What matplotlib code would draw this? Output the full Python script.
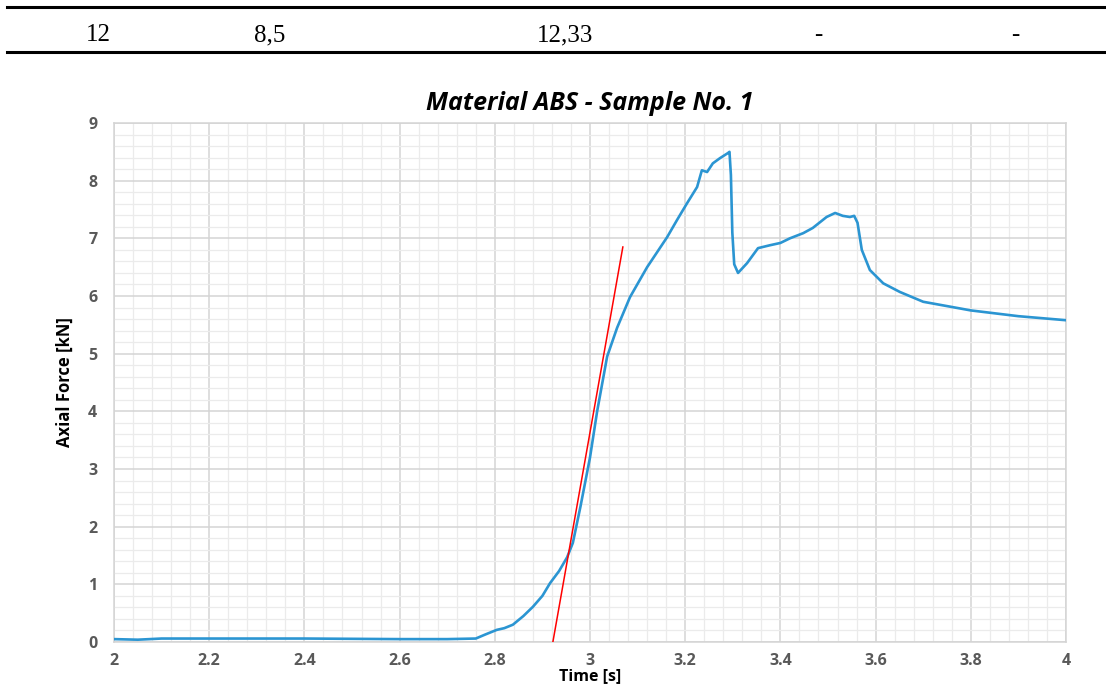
import matplotlib.pyplot as plt
from matplotlib.lines import Line2D
from matplotlib.ticker import MultipleLocator

# Data
time_s = [2.0, 2.05, 2.1, 2.2, 2.4, 2.6, 2.7, 2.76, 2.78, 2.804, 2.82, 2.838, 2.86,
          2.88, 2.9, 2.916, 2.935, 2.952, 2.964, 2.98, 3.0, 3.015, 3.036, 3.057,
          3.084, 3.12, 3.162, 3.183, 3.204, 3.225, 3.235, 3.246, 3.258, 3.273,
          3.29, 3.293, 3.296, 3.299, 3.303, 3.311, 3.33, 3.353, 3.378, 3.4,
          3.42, 3.448, 3.468, 3.497, 3.515, 3.531, 3.546, 3.555, 3.562, 3.571,
          3.588, 3.616, 3.651, 3.7, 3.8, 3.9, 4.0]
force_kn = [0.05, 0.04, 0.06, 0.06, 0.06, 0.05, 0.05, 0.06, 0.13, 0.21, 0.24, 0.3, 0.45,
            0.61, 0.8, 1.02, 1.23, 1.47, 1.72, 2.35, 3.2, 4.0, 4.95, 5.45,
            5.98, 6.5, 7.02, 7.32, 7.61, 7.89, 8.18, 8.15, 8.3, 8.39,
            8.48, 8.5, 8.1, 7.1, 6.55, 6.4, 6.57, 6.83, 6.88, 6.92,
            7.0, 7.09, 7.18, 7.37, 7.44, 7.39, 7.37, 7.39, 7.27, 6.8,
            6.45, 6.22, 6.07, 5.9, 5.75, 5.65, 5.58]

tangent_t = [2.922, 3.069]
tangent_f = [0.0, 6.85]

table_row = ["12", "8,5", "12,33", "-", "-"]
table_x = [98, 270, 565, 818, 1015]

fig = plt.figure(figsize=(11.06, 6.89), dpi=100)
ax = fig.add_axes([114 / 1106, 1 - 642 / 689, (1066 - 114) / 1106, (642 - 123) / 689])

ax.plot(time_s, force_kn, color="#2b95d2", lw=1.9, zorder=3)
ax.plot(tangent_t, tangent_f, color="#ff0000", lw=1.1, zorder=4)

ax.set_xlim(2, 4)
ax.set_ylim(0, 9)
ax.xaxis.set_major_locator(MultipleLocator(0.2))
ax.xaxis.set_minor_locator(MultipleLocator(0.04))
ax.yaxis.set_major_locator(MultipleLocator(1))
ax.yaxis.set_minor_locator(MultipleLocator(0.2))
ax.xaxis.set_major_formatter(plt.FuncFormatter(lambda v, p: f"{v:g}"))

ax.grid(which="major", color="#d4d4d4", lw=1.1)
ax.grid(which="minor", color="#ebebeb", lw=0.9)
ax.set_axisbelow(True)
for s in ax.spines.values():
    s.set_color("#d4d4d4")
    s.set_linewidth(1.1)
ax.tick_params(which="both", length=0)
ax.tick_params(axis="x", pad=8)
ax.tick_params(axis="y", pad=12)
for lab in ax.get_xticklabels() + ax.get_yticklabels():
    lab.set_fontfamily("Open Sans")
    lab.set_fontweight("bold")
    lab.set_fontsize(11.5)
    lab.set_color("#595959")

ax.set_xlabel("Time [s]", fontfamily="Open Sans", fontweight="bold", fontsize=11.5, labelpad=-1)
ax.set_ylabel("Axial Force [kN]", fontfamily="Open Sans", fontweight="bold", fontsize=12, labelpad=10)
ax.set_title("Material ABS - Sample No. 1", fontfamily="Open Sans", fontweight="bold",
             fontstyle="italic", fontsize=18, pad=9)

# table fragment at the top
fig.add_artist(Line2D([7 / 1106, 1], [1 - 7 / 689] * 2, color="black", lw=2.2))
fig.add_artist(Line2D([7 / 1106, 1], [1 - 52 / 689] * 2, color="black", lw=2.2))
for txt, px in zip(table_row, table_x):
    fig.text(px / 1106, 1 - 35 / 689, txt, ha="center", va="center",
             fontfamily="Liberation Serif", fontsize=18)

fig.savefig("out.png", dpi=100)
